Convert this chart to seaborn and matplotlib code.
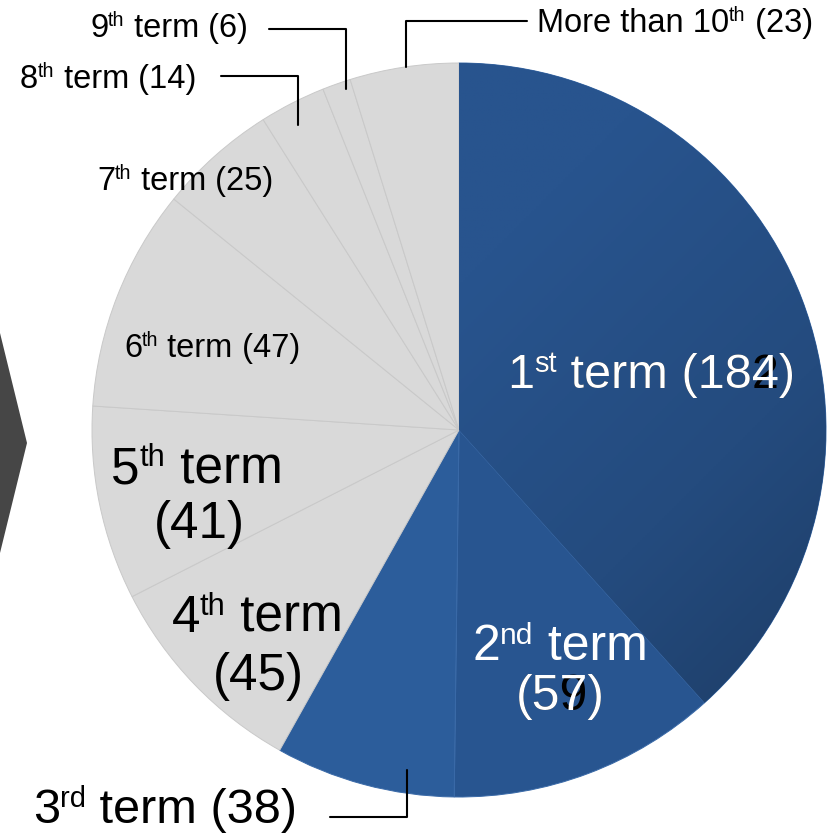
import numpy as np
import matplotlib
matplotlib.use("Agg")
import matplotlib.pyplot as plt
import seaborn as sns
from matplotlib.patches import Polygon
from matplotlib.colors import LinearSegmentedColormap

# ---- data ----
terms = ["1st term", "2nd term", "3rd term", "4th term", "5th term",
         "6th term", "7th term", "8th term", "9th term", "More than 10th"]
counts = [184, 57, 38, 45, 41, 47, 25, 14, 6, 23]
ordinal_base = ["1", "2", "3", "4", "5", "6", "7", "8", "9", "More than 10"]
ordinal_sup = ["st", "nd", "rd", "th", "th", "th", "th", "th", "th", "th"]
ordinal_tail = [" term", " term", " term", " term", " term", " term", " term",
                " term", " term", ""]

sns.set_theme(style="white")
plt.rcParams["font.family"] = ["Liberation Sans", "DejaVu Sans"]

W, H = 835, 833
def Y(y):
    return H - y

fig = plt.figure(figsize=(W / 100, H / 100), dpi=100)
ax = fig.add_axes([0, 0, 1, 1])
ax.set_xlim(0, W)
ax.set_ylim(0, H)

blue = ["#26508A", "#285590", "#2C5D9B"]
gray = "#D9D9D9"
colors = blue + [gray] * (len(counts) - 3)
edges = ["#3A6AA8"] * 3 + ["#C9C9C9"] * (len(counts) - 3)

cx, cy, R = 459, Y(430), 367
wedges, _ = ax.pie(counts, colors=colors, startangle=90, counterclock=False,
                   center=(cx, cy), radius=R,
                   wedgeprops=dict(linewidth=0.7))
for w, ec in zip(wedges, edges):
    w.set_edgecolor(ec)

# gradient on the first slice (light upper-left -> dark lower-right)
xs = np.linspace(cx - R, cx + R, 300)
ys = np.linspace(cy - R, cy + R, 300)
XX, YY = np.meshgrid(xs, ys)
t = ((XX - cx) - (YY - cy)) / (2 * R)
t = np.clip(t, -0.2, 1.0)
cmap = LinearSegmentedColormap.from_list("g", ["#28548E", "#244B7E", "#1C3A61"])
im = ax.imshow(t, extent=[cx - R, cx + R, cy - R, cy + R], origin="lower",
               cmap=cmap, vmin=-0.2, vmax=1.0, zorder=1.5, aspect="auto")
im.set_clip_path(wedges[0])

# chevron shape on the left
chev = Polygon([(-80, Y(333)), (0, Y(333)), (27, Y(443)), (0, Y(553)), (-80, Y(553))],
               closed=True, facecolor="#464646", edgecolor="none", zorder=1)
ax.add_patch(chev)

ax.set_xlim(0, W)
ax.set_ylim(0, H)
ax.set_aspect("auto")
ax.axis("off")

renderer = fig.canvas.get_renderer()

def rich(x, y, parts, size, color="black", ha="left", z=5):
    """parts: list of (string, is_superscript); y = baseline in image px."""
    objs, widths = [], []
    for s, sup in parts:
        fs = size * 0.6 if sup else size
        tt = ax.text(0, 0, s, fontsize=fs, color=color, ha="left",
                     va="baseline", zorder=z)
        objs.append((tt, sup))
        widths.append(tt.get_window_extent(renderer).width)
    total = sum(widths)
    cur = x - total / 2 if ha == "center" else x
    for (tt, sup), w in zip(objs, widths):
        dy = size * 100 / 72 * 0.33 if sup else 0
        tt.set_position((cur, Y(y) + dy))
        cur += w

def head(i):
    return [(ordinal_base[i], False), (ordinal_sup[i], True), (ordinal_tail[i], False)]

big, mid, small = 35, 37, 23.5

# 1st term (with stray glyph underneath)
rich(507, 388, head(0) + [(" (182)", False)], big, "black", z=4)
rich(507, 388, head(0) + [(f" ({counts[0]})", False)], big, "white")

# 2nd term
rich(560, 660, head(1), 36, "white", ha="center")
rich(560, 710, [("(59)", False)], 36, "black", ha="center", z=4)
rich(560, 710, [(f"({counts[1]})", False)], 36, "white", ha="center")

# 3rd term
rich(33, 823, head(2) + [(f" ({counts[2]})", False)], big)
ax.plot([330, 407, 407], [Y(817), Y(817), Y(770)], color="black", lw=1.5, zorder=6)

# 4th, 5th
rich(257, 632, head(3), mid, ha="center")
rich(258, 690, [(f"({counts[3]})", False)], mid, ha="center")
rich(197, 483, head(4), mid, ha="center")
rich(199, 538, [(f"({counts[4]})", False)], mid, ha="center")

# 6th, 7th
rich(124, 357, head(5) + [(f" ({counts[5]})", False)], small)
rich(97, 190, head(6) + [(f" ({counts[6]})", False)], small)

# 8th, 9th, more than 10th with connectors
rich(20, 88, head(7) + [(f" ({counts[7]})", False)], small)
ax.plot([221, 298, 298], [Y(76), Y(76), Y(125)], color="black", lw=1.5, zorder=6)
rich(90, 37, head(8) + [(f" ({counts[8]})", False)], small)
ax.plot([269, 346, 346], [Y(29), Y(29), Y(89)], color="black", lw=1.5, zorder=6)
rich(537, 32, head(9) + [(f" ({counts[9]})", False)], small)
ax.plot([527, 406, 406], [Y(21), Y(21), Y(67)], color="black", lw=1.5, zorder=6)

fig.savefig("out.png", dpi=100, facecolor="white")
